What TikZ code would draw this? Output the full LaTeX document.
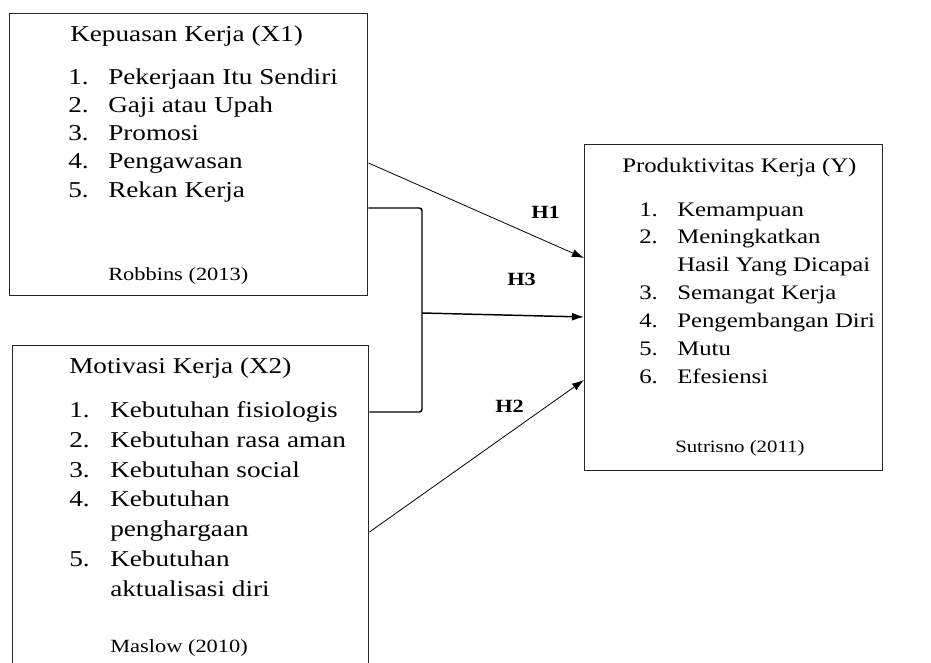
\documentclass[tikz,border=0pt]{standalone}
\usepackage{fontspec}
\setmainfont[FakeStretch=1.2]{Liberation Serif}
\usetikzlibrary{arrows.meta}

\begin{document}
\begin{tikzpicture}[x=0.75pt,y=-0.75pt,
        box/.style={draw=black!85,line width=1.1pt,inner sep=0pt,anchor=north west},
        txt/.style={inner sep=0pt,anchor=base west,font=\fontsize{17}{20}\selectfont},
        txty/.style={inner sep=0pt,anchor=base west,font=\fontsize{15.5}{19}\selectfont},
        cite/.style={inner sep=0pt,anchor=base west,font=\fontsize{14}{17}\selectfont},
        hyp/.style={inner sep=0pt,anchor=base west,font=\fontsize{14}{17}\selectfont\bfseries},
        link/.style={-{Latex[length=9pt,width=6pt]},line width=0.6pt}]
\useasboundingbox (0,0) rectangle (931,663);

% boxes
\node[box,minimum width=268.5pt,minimum height=211.5pt] (x1) at (9,13) {};
\node[box,minimum width=267pt,minimum height=255pt] (x2) at (12,345) {};
\node[box,minimum width=223.5pt,minimum height=244.5pt] (y) at (584,144) {};

% X1
\node[txt] (x1t) at (70,42) {Kepuasan Kerja (X1)};
\foreach \n/\yy/\s in {1/85/Pekerjaan Itu Sendiri,2/113/Gaji atau Upah,3/141/Promosi,
        4/169/Pengawasan,5/197/Rekan Kerja}{
    \node[txt] (x1n\n) at (68,\yy) {\n.};
    \node[txt] (x1i\n) at (108,\yy) {\s};
}
\node[cite] (x1c) at (108,280) {Robbins (2013)};

% X2
\node[txt] (x2t) at (69,373) {Motivasi Kerja (X2)};
\foreach \n/\yy/\s in {1/417/Kebutuhan fisiologis,2/447/Kebutuhan rasa aman,
        3/477/Kebutuhan social,4/506/Kebutuhan,5/566/Kebutuhan}{
    \node[txt] (x2n\n) at (69,\yy) {\n.};
    \node[txt] (x2i\n) at (110,\yy) {\s};
}
\node[txt] (x2i4b) at (110,536) {penghargaan};
\node[txt] (x2i5b) at (110,596) {aktualisasi diri};
\node[cite] (x2c) at (110,652) {Maslow (2010)};

% Y
\node[txty] (yt) at (622,172) {Produktivitas Kerja (Y)};
\foreach \n/\yy/\s in {1/216/Kemampuan,2/243/Meningkatkan,3/299/Semangat Kerja,
        4/327/Pengembangan Diri,5/355/Mutu,6/383/Efesiensi}{
    \node[txty] (yn\n) at (639,\yy) {\n.};
    \node[txty] (yi\n) at (677,\yy) {\s};
}
\node[txty] (yi2b) at (677,271) {Hasil Yang Dicapai};
\node[cite,font=\fontsize{13}{16}\selectfont] (yc) at (675,452) {Sutrisno (2011)};

% hipotesis
\coordinate (br) at (422,313);
\draw[link] (x1.east |- 0,163) -- (y.west |- 0,258);
\draw[link] (x2.east |- 0,532) -- (y.west |- 0,380);
\draw[line width=1.1pt,rounded corners=2pt] (x1.east |- 0,208) -- (br |- 0,208)
    -- (br |- 0,412) -- (x2.east |- 0,412);
\draw[link,line width=1.1pt] (br) -- (y.west |- 0,317);

\node[hyp] (h1) at (531,218) {H1};
\node[hyp] (h3) at (507,285) {H3};
\node[hyp] (h2) at (495,412) {H2};
\end{tikzpicture}
\end{document}
